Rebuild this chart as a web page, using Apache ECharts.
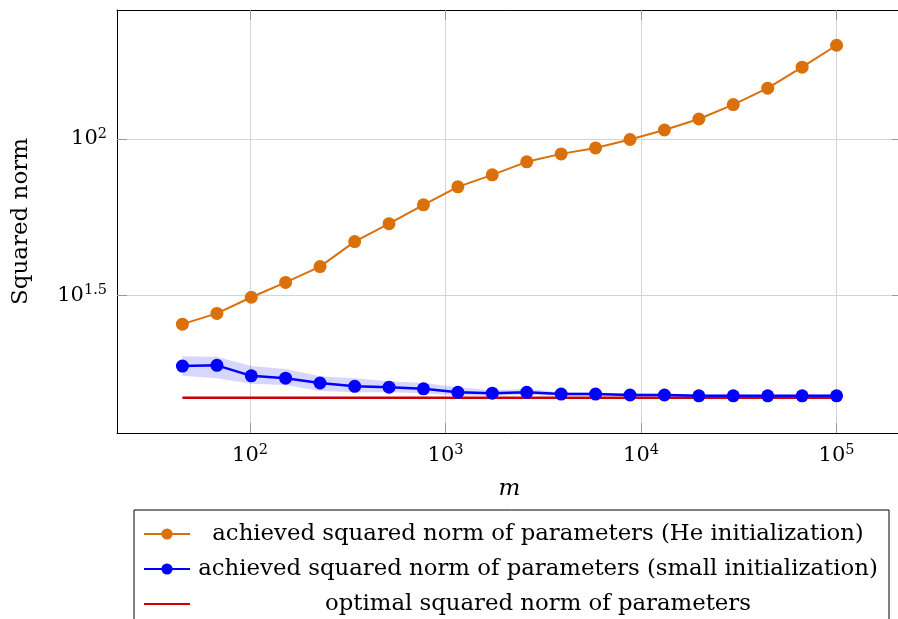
<!DOCTYPE html>
<html><head><meta charset="utf-8">
<script src="https://cdn.jsdelivr.net/npm/echarts@6/dist/echarts.min.js"></script>
<style>html,body{margin:0;padding:0;background:#fff}#c{width:898px;height:619px}</style>
</head><body><div id="c"></div>
<script>
// ---- data ----
const m = [45.1, 67.7, 101.5, 152, 228, 343, 514, 771, 1156, 1734, 2601, 3902, 5853, 8779, 13169, 19753, 29630, 44444, 66667, 100000];
const heNorm = [25.6, 27.7, 31.2, 34.8, 39.1, 47.0, 53.6, 61.6, 70.3, 76.8, 84.5, 89.6, 93.6, 99.6, 106.8, 115.8, 128.8, 145.3, 169.6, 199.3];
const smallNorm = [18.8, 18.9, 17.5, 17.2, 16.6, 16.2, 16.1, 15.9, 15.5, 15.4, 15.5, 15.3, 15.3, 15.2, 15.2, 15.1, 15.1, 15.1, 15.1, 15.1];
const smallLow = [17.5, 17.2, 16.5, 16.35, 15.65, 15.5, 15.5, 15.4, 15.1, 15.1, 15.2, 15.1, 15.13, 15.03, 15.03, 14.95, 14.95, 14.95, 14.95, 14.95];
const smallHigh = [20.2, 20.15, 18.8, 18.4, 17.45, 17.2, 16.8, 16.6, 16.1, 15.75, 15.87, 15.5, 15.47, 15.36, 15.36, 15.25, 15.25, 15.25, 15.25, 15.25];
const optNorm = [14.9, 14.9, 14.9, 14.9, 14.9, 14.9, 14.9, 14.9, 14.9, 14.9, 14.9, 14.9, 14.9, 14.9, 14.9, 14.9, 14.9, 14.9, 14.9, 14.9];
const xRange = [20.87, 216100];
const yRange = [11.49, 258.3];
const xTicks = [100, 1000, 10000, 100000];
const yTicks = [31.6227766, 100];
const seriesNames = [
  'achieved squared norm of parameters (He initialization)',
  'achieved squared norm of parameters (small initialization)',
  'optimal squared norm of parameters'
];
const axisNames = { x: 'm', y: 'Squared norm' };

// ---- chart ----
const SERIF = "'DejaVu Serif', 'Liberation Serif', serif";
const pair = (xs, ys) => xs.map((x, i) => [x, ys[i]]);
function expLabel(v) {
  const e = Math.log10(v);
  const r = Math.round(e * 2) / 2;
  if (Math.abs(e - r) > 1e-4) return '';
  const s = Number.isInteger(r) ? String(r) : r.toFixed(1);
  return '{b|10}{s|' + s + '}';
}
const labelRich = {
  b: { fontSize: 21, fontFamily: SERIF, color: '#000' },
  s: { fontSize: 14.5, fontFamily: SERIF, color: '#000', padding: [0, 0, 10, 0] }
};
const tickStyle = (vals) => ({ show: true, inside: true, length: 10, customValues: vals, lineStyle: { color: '#999', width: 1 } });
const gridLine = { show: true, lineStyle: { color: '#d4d4d4', width: 1 } };
const borderLine = { show: true, lineStyle: { color: '#000', width: 1 } };

const chart = echarts.init(document.getElementById('c'), null, { renderer: 'canvas' });
chart.setOption({
  animation: false,
  backgroundColor: '#fff',
  grid: { left: 117, top: 10, width: 785, height: 423, containLabel: false, outerBoundsMode: 'none' },
  xAxis: [{
    type: 'log', logBase: 10, min: xRange[0], max: xRange[1], position: 'bottom',
    name: axisNames.x, nameLocation: 'middle', nameGap: 45,
    nameTextStyle: { fontSize: 23, fontFamily: SERIF, fontStyle: 'italic', color: '#000' },
    axisLine: borderLine,
    axisTick: tickStyle(xTicks),
    axisLabel: { show: true, margin: 10, customValues: xTicks, formatter: expLabel, rich: labelRich },
    splitLine: gridLine
  }, {
    type: 'log', logBase: 10, min: xRange[0], max: xRange[1], position: 'top',
    axisLine: borderLine, axisTick: tickStyle(xTicks), axisLabel: { show: false }, splitLine: { show: false }
  }],
  yAxis: [{
    type: 'log', logBase: Math.sqrt(10), min: yRange[0], max: yRange[1], position: 'left',
    name: axisNames.y, nameLocation: 'middle', nameGap: 84,
    nameTextStyle: { fontSize: 23, fontFamily: SERIF, color: '#000' },
    axisLine: borderLine,
    axisTick: tickStyle(yTicks),
    axisLabel: { show: true, margin: 10, customValues: yTicks, formatter: expLabel, rich: labelRich },
    splitLine: gridLine
  }, {
    type: 'log', logBase: Math.sqrt(10), min: yRange[0], max: yRange[1], position: 'right',
    axisLine: borderLine, axisTick: tickStyle(yTicks), axisLabel: { show: false }, splitLine: { show: false }
  }],
  legend: {
    data: [
      { name: seriesNames[0] },
      { name: seriesNames[1] },
      { name: seriesNames[2], itemStyle: { opacity: 0 } }
    ],
    orient: 'vertical', left: 134, top: 510, height: 130,
    padding: [11.5, 8, 5, 9], itemGap: 10, itemWidth: 46, itemHeight: 14,
    borderColor: '#000', borderWidth: 1, borderRadius: 0, backgroundColor: '#fff',
    formatter: n => '{t|' + n + '}',
    textStyle: { lineHeight: 25, rich: { t: { width: 686, align: 'center', lineHeight: 25, fontSize: 22.8, fontFamily: SERIF, color: '#000' } } }
  },
  series: [
    {
      type: 'custom', name: 'band', silent: true, z: 1, clip: true,
      data: m.map((x, i) => [x, smallLow[i], smallHigh[i]]),
      encode: { x: 0, y: [1, 2] },
      renderItem: function (params, api) {
        if (params.dataIndex !== 0) return null;
        const top = m.map((x, i) => api.coord([x, smallHigh[i]]));
        const bot = m.map((x, i) => api.coord([x, smallLow[i]])).reverse();
        return { type: 'polygon', shape: { points: top.concat(bot) }, style: { fill: 'rgba(0,0,255,0.16)' } };
      }
    },
    {
      type: 'line', name: seriesNames[2], z: 2, data: pair(m, optNorm),
      symbol: 'none', color: '#cc0000', lineStyle: { color: '#cc0000', width: 2.5 }
    },
    {
      type: 'line', name: seriesNames[1], z: 3, data: pair(m, smallNorm),
      symbol: 'circle', symbolSize: 13, showAllSymbol: true, color: '#0000ff',
      itemStyle: { color: '#0000ff' }, lineStyle: { color: '#0000ff', width: 2.5 }
    },
    {
      type: 'line', name: seriesNames[0], z: 4, data: pair(m, heNorm),
      symbol: 'circle', symbolSize: 13, showAllSymbol: true, color: '#d9700a',
      itemStyle: { color: '#d9700a' }, lineStyle: { color: '#d9700a', width: 2 }
    }
  ]
});
</script></body></html>
